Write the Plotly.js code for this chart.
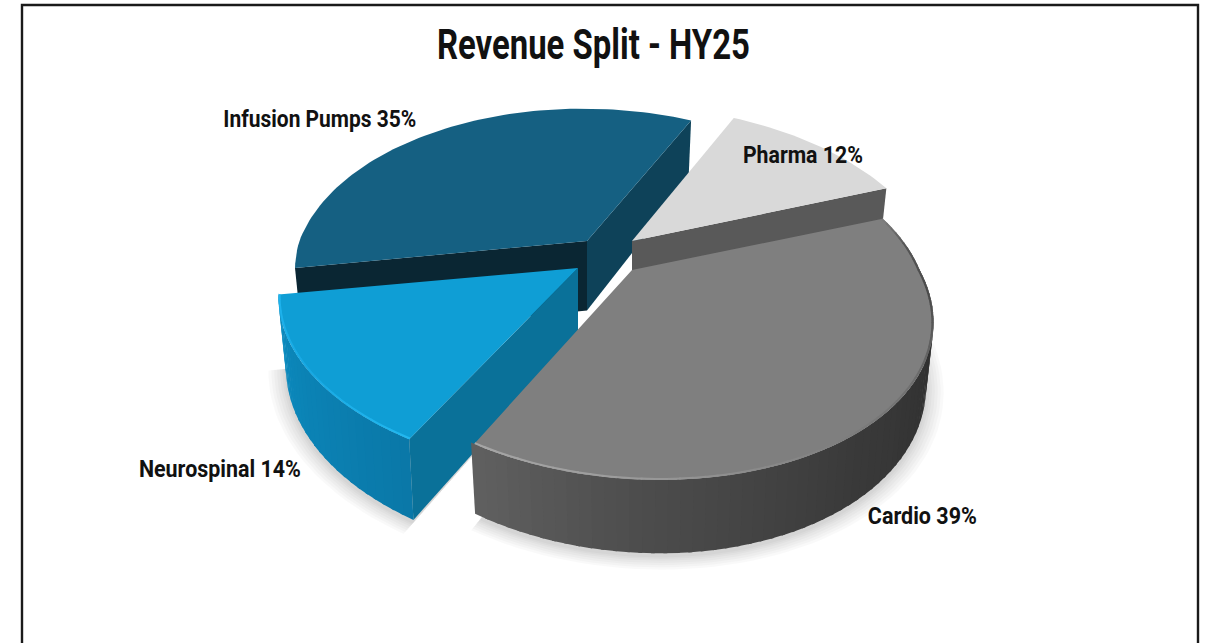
<!DOCTYPE html>
<html><head><meta charset="utf-8">
<script src="https://cdn.plot.ly/plotly-3.0.1.min.js"></script>
<style>html,body{margin:0;padding:0;background:#fff}#c{width:1205px;height:643px}</style>
</head><body><div id="c"></div>
<script>
const categories = ["Cardio", "Neurospinal", "Infusion Pumps", "Pharma"];
const shares = [39, 14, 35, 12];
const chartTitle = "Revenue Split - HY25";

// view settings of the tilted pie
const firstAngle = -20, K = 0.2286, A = 292, B = 166, H0 = 62, BOTTOM = 0.975, LEAN = 0.1;
const apex = {Cardio:[632,270], Neurospinal:[578,268], "Infusion Pumps":[587,241], Pharma:[632,241]};
// per-slice view tuning: x scale, y scale, wall height scale, far-side shear, near-side lean
const tune = {Cardio:[0.985,0.975,0.98,0,0.135], Neurospinal:[1.01,0.96,1.1,0,0.1], "Infusion Pumps":[0.985,0.98,1.12,0.03,0.1], Pharma:[1.015,1.0,1.0,0.075,0.1]};
const faceColor = {Cardio:"#7f7f7f", Neurospinal:"#0f9ed5", "Infusion Pumps":"#156082", Pharma:"#d9d9d9"};
const sideStops = {
  Cardio:[[0,"#2c2c2c"],[0.2,"#2f2f2f"],[0.5,"#3a3a3a"],[0.8,"#4e4e4e"],[1,"#606060"]],
  Neurospinal:[[0,"#0a78a8"],[0.5,"#0b82b4"],[1,"#0c8cc0"]]
};
const rimStops = {
  Cardio:[[0,"#7f7f7f"],[0.08,"#555555"],[0.2,"#4a4a4a"],[0.4,"#6e6e6e"],[0.62,"#858585"],[0.85,"#9e9e9e"],[1,"#a6a6a6"]],
  Neurospinal:[[0,"#22b8f0"],[0.5,"#18a8e2"],[1,"#1fb4ee"]]
};
const cutColor = {
  "Infusion Pumps":{start:"#0a2633", end:"#0e4259"},
  Pharma:{end:"#595959"},
  Neurospinal:{start:"#0a7199"}
};
const labelPos = {Cardio:[922,516], Neurospinal:[220,469], "Infusion Pumps":[320,119], Pharma:[803,155]};
const labelWidth = {Cardio:109, Neurospinal:162, "Infusion Pumps":193, Pharma:120};
const titleWidth = 313;
const drawOrder = ["Infusion Pumps","Pharma","Neurospinal","Cardio"];

function hex(c){return [1,3,5].map(i=>parseInt(c.substr(i,2),16));}
function mix(stops,f){
  for(let i=1;i<stops.length;i++){ if(f<=stops[i][0]){
    const a=hex(stops[i-1][1]),b=hex(stops[i][1]),u=(f-stops[i-1][0])/(stops[i][0]-stops[i-1][0]);
    return "rgb("+a.map((v,j)=>Math.round(v+(b[j]-v)*u)).join(",")+")"; } }
  return stops[stops.length-1][1];
}
function proj(tDeg,n,low){
  const ap=apex[n],tn=tune[n];
  const t=tDeg*Math.PI/180,c=Math.cos(t),s=Math.sin(t),d=1-K*s;
  let x=A*c/d*tn[0],y=B*s/d*tn[1];
  x+=tn[4]*Math.max(y,0)+tn[3]*Math.min(y,0);
  if(low){x*=BOTTOM;y=y*BOTTOM+H0*tn[2]/d;}
  return [ap[0]+x,ap[1]+y];
}

const traces=[];
function poly(pts,color){
  traces.push({type:"scatter",mode:"lines",x:pts.map(p=>p[0]),y:pts.map(p=>p[1]),fill:"toself",fillcolor:color,
    line:{color:"rgba(0,0,0,0)",width:0},hoverinfo:"skip",showlegend:false});
}
function line(pts,color,w){
  traces.push({type:"scatter",mode:"lines",x:pts.map(p=>p[0]),y:pts.map(p=>p[1]),
    line:{color:color,width:w},hoverinfo:"skip",showlegend:false});
}
// sector spans from the shares
const span={};
let cum=firstAngle;
categories.forEach((n,i)=>{const sweep=shares[i]*3.6;span[n]=[cum,cum+sweep];cum+=sweep;});

// soft ground shadow: nested sectors that widen from the lower rim and tuck behind the body
["Cardio","Neurospinal"].forEach(n=>{
  const [a,b]=span[n],ap=apex[n],al=[ap[0],ap[1]+H0*tune[n][2]];
  [0.06,0.05,0.04,0.03,0.02,0.012,0.005].forEach(e=>{
    const pts=[al];
    for(let t=a;t<=b+0.001;t+=2){
      const p=proj(t,n,true);
      pts.push([al[0]+(p[0]-al[0])*(1+e),al[1]+(p[1]-al[1])*(1+e)+3]);
    }
    poly(pts,"rgba(0,0,0,0.022)");
  });
});

drawOrder.forEach(n=>{
  const [a,b]=span[n],ap=apex[n],al=[ap[0],ap[1]+H0*tune[n][2]];
  const cuts=cutColor[n]||{};
  const vis0=Math.max(a,-8),vis1=Math.min(b,190);
  const N=Math.ceil((vis1-vis0)/2);
  // outer wall, painted from one end to the other with a little overlap
  if(sideStops[n]){
    for(let i=0;i<N;i++){
      const t0=vis0+(vis1-vis0)*i/N,t1=vis0+(vis1-vis0)*(i+1)/N;
      const prog=((t0+t1)/2-vis0)/(vis1-vis0);
      poly([proj(t0,n,false),proj(t1+0.6,n,false),proj(t1+0.6,n,true),proj(t0,n,true)],mix(sideStops[n],prog));
    }
  }
  // radial cut walls
  if(cuts.end){poly([ap,proj(b,n,false),proj(b,n,true),al],cuts.end);}
  if(cuts.start){poly([ap,proj(a,n,false),proj(a,n,true),al],cuts.start);}
  // top face
  const f=[ap];
  for(let t=a;t<=b+0.001;t+=1.5){f.push(proj(t,n,false));}
  f.push(proj(b,n,false));
  poly(f,faceColor[n]);
  // bevel highlight on the rim, just inside the edge
  if(rimStops[n]){
    const M=Math.ceil((b-a)/2);
    for(let i=0;i<M;i++){
      const t0=a+(b-a)*i/M,t1=a+(b-a)*(i+1)/M;
      const g=((t0+t1)/2-a)/(b-a);
      const seg=[proj(t0,n,false),proj(Math.min(t1+0.3,b),n,false)].map(p=>[ap[0]+(p[0]-ap[0])*0.996,ap[1]+(p[1]-ap[1])*0.996]);
      line(seg,mix(rimStops[n],g),2);
    }
  }
});

const fontFam="Roboto,'Liberation Sans',sans-serif";
const annotations=categories.map((n,i)=>({
  x:labelPos[n][0],y:labelPos[n][1],xref:"x",yref:"y",showarrow:false,xanchor:"center",yanchor:"middle",
  text:n+" "+shares[i]+"%",font:{family:fontFam,size:23,color:"#111",weight:700}
}));

const layout={
  width:1205,height:643,margin:{l:0,r:0,t:0,b:0},paper_bgcolor:"#fff",plot_bgcolor:"#fff",showlegend:false,
  title:{text:chartTitle,x:0.4925,xanchor:"center",y:0.931,yanchor:"middle",
    font:{family:fontFam,size:42,color:"#111",weight:700}},
  xaxis:{range:[0,1205],visible:false,fixedrange:true},
  yaxis:{range:[643,0],visible:false,fixedrange:true},
  annotations:annotations,
  shapes:[{type:"path",xref:"x",yref:"y",path:"M22,645 L22,5 L1198,5 L1198,645",line:{color:"#1a1a1a",width:2.4}}]
};
Plotly.newPlot("c",traces,layout,{displayModeBar:false,staticPlot:true}).then(()=>{
  // condensed look: fit each real text element to its width
  const fit=(el,w)=>{el.setAttribute("textLength",w);el.setAttribute("lengthAdjust","spacingAndGlyphs");};
  const t=document.querySelector(".gtitle"); if(t) fit(t,titleWidth);
  document.querySelectorAll(".annotation-text").forEach((el,i)=>fit(el,labelWidth[categories[i]]));
});
</script></body></html>
